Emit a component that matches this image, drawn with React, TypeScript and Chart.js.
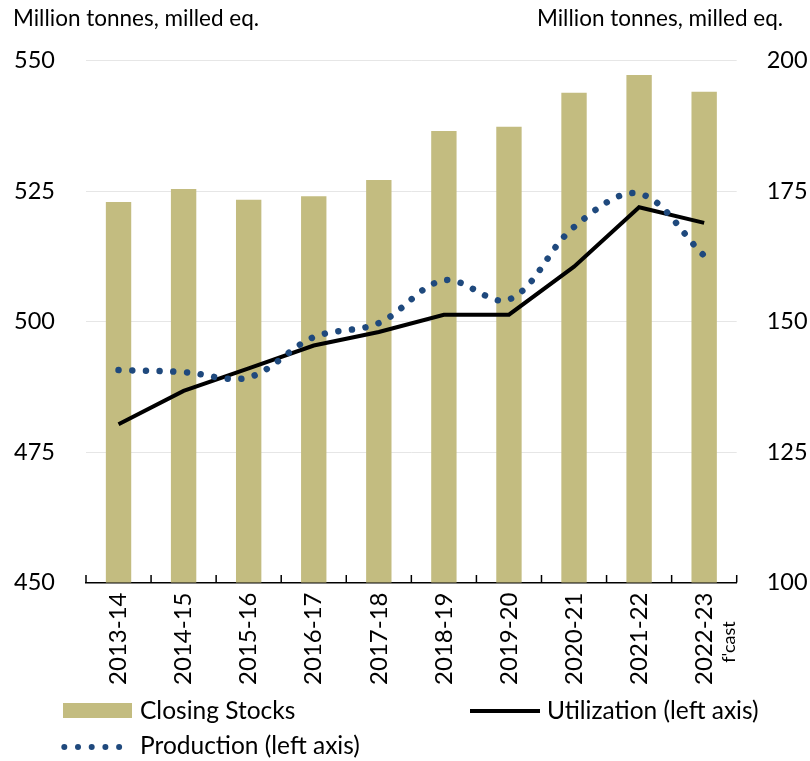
import React, { useEffect, useRef } from 'react';
import { Chart, registerables } from 'chart.js';

Chart.register(...registerables);

const categories = ['2013-14', '2014-15', '2015-16', '2016-17', '2017-18', '2018-19', '2019-20', '2020-21', '2021-22', '2022-23'];
const closingStocks = [172.9, 175.4, 173.3, 174.0, 177.1, 186.5, 187.3, 193.8, 197.2, 194.0];
const utilization = [480.3, 486.7, 491.0, 495.4, 498.0, 501.3, 501.3, 510.5, 521.9, 518.9];
const production = [490.7, 490.3, 489.3, 497.0, 499.7, 507.9, 504.2, 518.1, 524.5, 512.6];
const leftAxisTicks = [450, 475, 500, 525, 550];
const rightAxisTicks = [100, 125, 150, 175, 200];
const axisTitle = 'Million tonnes, milled eq.';
const forecastNote = "f'cast";
const legendLabels = ['Closing Stocks', 'Utilization (left axis)', 'Production (left axis)'];

const FONT = 'Lato';
const BAR_COLOR = '#c3bc80';
const PROD_COLOR = '#1f497d';

const overlayPlugin = {
  id: 'overlay',
  afterDraw(chart: any) {
    const { ctx } = chart;
    const x = chart.scales.x;
    const n = categories.length;
    ctx.save();
    // inward tick marks on category boundaries
    ctx.strokeStyle = '#000';
    ctx.lineWidth = 1.5;
    for (let i = 0; i <= n; i++) {
      const px = i === 0 ? x.left : i === n ? x.right : (x.getPixelForValue(i - 1) + x.getPixelForValue(i)) / 2;
      ctx.beginPath();
      ctx.moveTo(px, x.top);
      ctx.lineTo(px, x.top - 7.5);
      ctx.stroke();
    }
    ctx.fillStyle = '#000';
    ctx.textBaseline = 'middle';
    // axis titles
    ctx.font = `22.5px ${FONT}`;
    ctx.textAlign = 'left';
    ctx.fillText(axisTitle, 13, 19);
    ctx.fillText(axisTitle, 537, 19);
    // forecast note
    ctx.save();
    ctx.translate(729, 642);
    ctx.rotate(-Math.PI / 2);
    ctx.textAlign = 'center';
    ctx.font = `18px ${FONT}`;
    ctx.fillText(forecastNote, 0, 0);
    ctx.restore();
    // legend
    ctx.font = `24.5px ${FONT}`;
    ctx.textAlign = 'left';
    ctx.fillStyle = BAR_COLOR;
    ctx.fillRect(63, 703, 69, 15);
    ctx.fillStyle = '#000';
    ctx.fillText(legendLabels[0], 140, 711);
    ctx.strokeStyle = '#000';
    ctx.lineWidth = 4;
    ctx.beginPath();
    ctx.moveTo(470, 711);
    ctx.lineTo(540, 711);
    ctx.stroke();
    ctx.fillText(legendLabels[1], 547, 711);
    ctx.fillStyle = PROD_COLOR;
    for (let i = 0; i < 5; i++) {
      ctx.beginPath();
      ctx.arc(64.3 + i * 13.7, 747, 3, 0, Math.PI * 2);
      ctx.fill();
    }
    ctx.fillStyle = '#000';
    ctx.fillText(legendLabels[2], 140, 746);
    ctx.restore();
  },
};

export default function App() {
  const ref = useRef<HTMLCanvasElement>(null);
  useEffect(() => {
    if (!ref.current) return;
    const chart = new Chart(ref.current, {
      type: 'bar',
      data: {
        labels: categories,
        datasets: [
          {
            type: 'bar',
            label: legendLabels[0],
            data: closingStocks,
            yAxisID: 'y1',
            backgroundColor: BAR_COLOR,
            barPercentage: 0.39,
            categoryPercentage: 1,
            order: 3,
          },
          {
            type: 'line',
            label: legendLabels[1],
            data: utilization,
            yAxisID: 'y',
            borderColor: '#000',
            borderWidth: 4,
            pointRadius: 0,
            tension: 0,
            fill: false,
            order: 2,
          },
          {
            type: 'line',
            label: legendLabels[2],
            data: production,
            yAxisID: 'y',
            borderColor: PROD_COLOR,
            borderWidth: 6.5,
            borderDash: [0.01, 13.7],
            borderCapStyle: 'round',
            pointRadius: 0,
            tension: 0.35,
            fill: false,
            order: 1,
          },
        ] as any,
      },
      options: {
        responsive: false,
        animation: false,
        layout: { padding: { left: 0, right: 0, top: 60.5, bottom: 0 } },
        plugins: { legend: { display: false }, tooltip: { enabled: false } },
        scales: {
          x: {
            type: 'category',
            offset: true,
            z: 1,
            grid: { display: false, drawTicks: false },
            border: { display: true, color: '#000', width: 1.5 },
            ticks: {
              minRotation: 90,
              maxRotation: 90,
              padding: 10,
              color: '#000',
              font: { family: FONT, size: 24 },
            },
            afterFit: (s: any) => {
              s.height = 178.5;
            },
          },
          y: {
            type: 'linear',
            position: 'left',
            min: 450,
            max: 550,
            grid: { color: '#e6e6e6', lineWidth: 1, drawTicks: false },
            border: { display: false },
            ticks: { padding: 31, color: '#000', font: { family: FONT, size: 23.5 } },
            afterBuildTicks: (s: any) => {
              s.ticks = leftAxisTicks.map((v) => ({ value: v }));
            },
            afterFit: (s: any) => {
              s.width = 86;
            },
          },
          y1: {
            type: 'linear',
            position: 'right',
            min: 100,
            max: 200,
            grid: { display: false, drawTicks: false },
            border: { display: false },
            ticks: { padding: 30, color: '#000', font: { family: FONT, size: 23.5 } },
            afterBuildTicks: (s: any) => {
              s.ticks = rightAxisTicks.map((v) => ({ value: v }));
            },
            afterFit: (s: any) => {
              s.width = 73.3;
            },
          },
        },
      } as any,
      plugins: [overlayPlugin],
    });
    return () => chart.destroy();
  }, []);
  return (
    <div style={{ position: 'absolute', left: 0, top: 0, width: 810, height: 761, background: '#fff' }}>
      <canvas ref={ref} width={810} height={761} />
    </div>
  );
}
